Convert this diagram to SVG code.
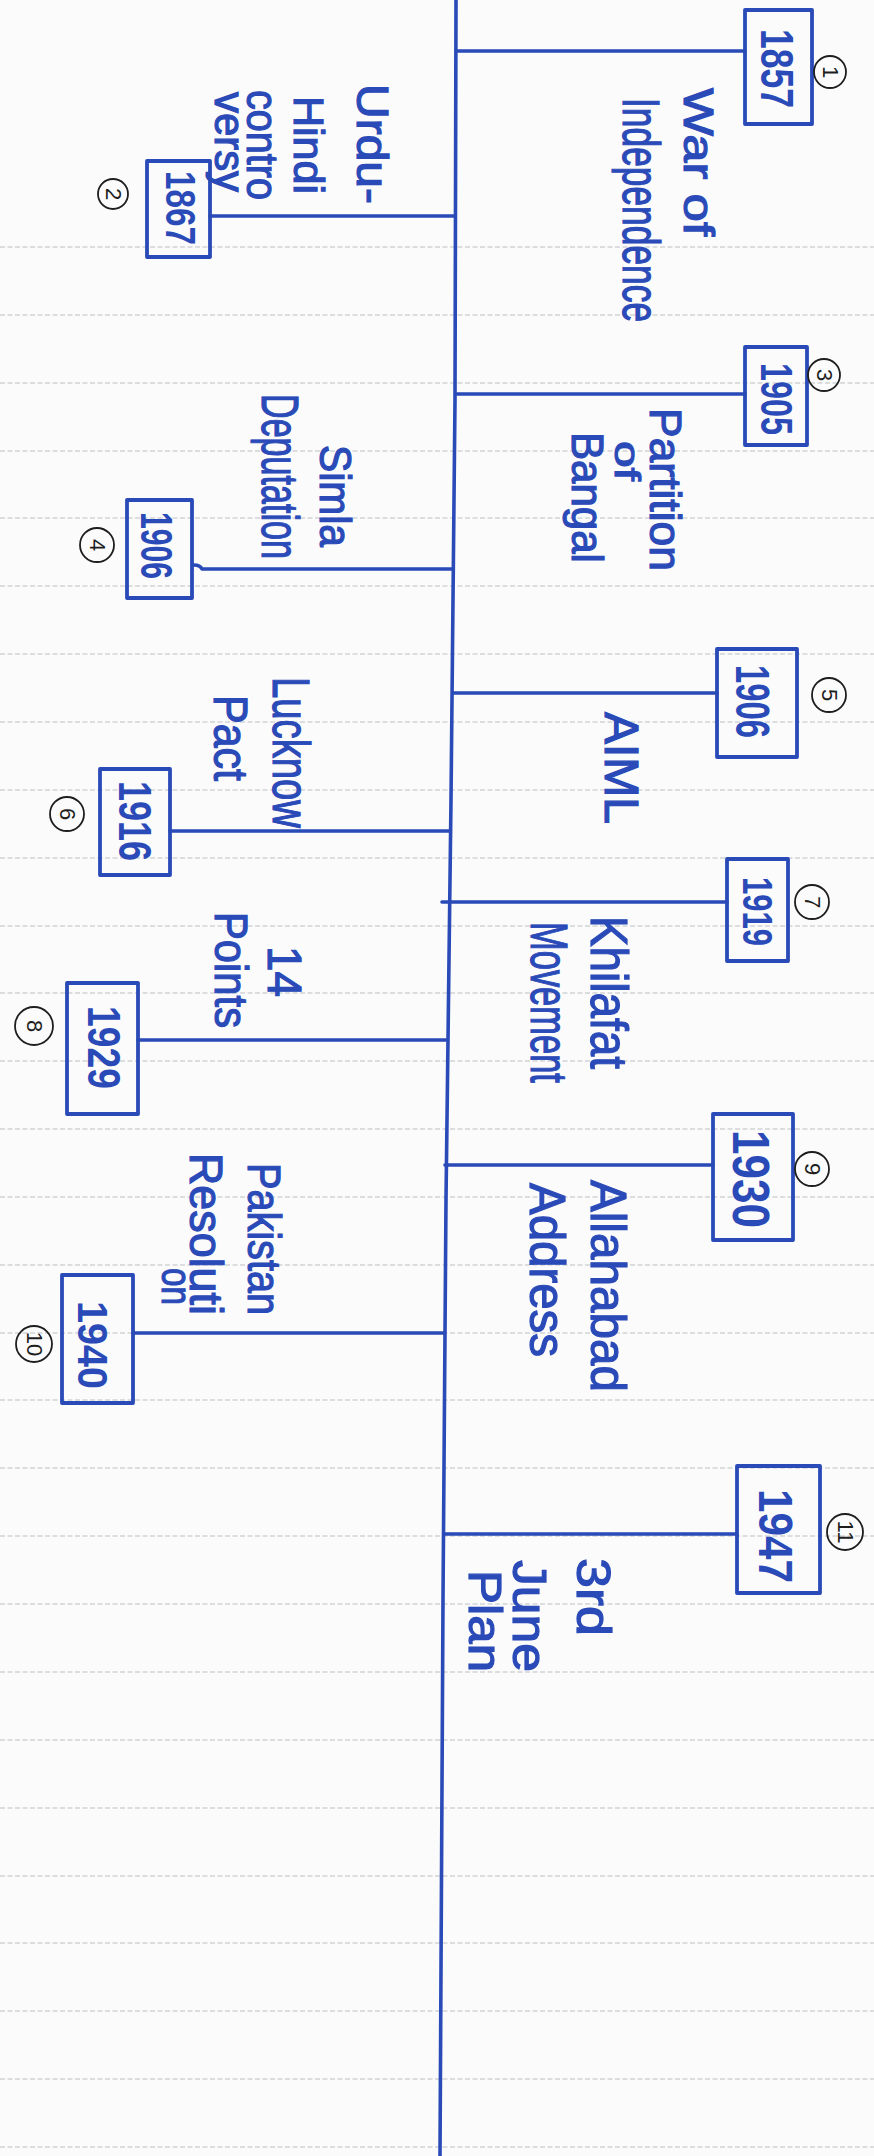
<svg xmlns="http://www.w3.org/2000/svg" width="874" height="2156" viewBox="0 0 874 2156">
<style>
.rule{stroke:#8a9098;stroke-width:1.1;stroke-dasharray:5 2.5;opacity:.55;fill:none}
.ink{stroke:#2a4ab8;fill:none;stroke-width:3.6;stroke-linecap:round;stroke-linejoin:round}
.box{fill:none;stroke:#2a4ab8;stroke-width:3.8;stroke-linejoin:round}
.lbl{font-family:"Liberation Sans",Arial,sans-serif;fill:#2a4ab8;stroke:#2a4ab8;stroke-width:1.2}
.yr{font-family:"Liberation Sans",Arial,sans-serif;fill:#2a4ab8;font-weight:bold}
.num circle{fill:none;stroke:#1e1e1e;stroke-width:1.8}
.num text{font-family:"Liberation Sans",Arial,sans-serif;fill:#1e1e1e;font-size:22px;text-anchor:middle;dominant-baseline:central}
</style>
<rect width="874" height="2156" fill="#fbfbfb"/>
<g id="ruled-lines">
<path class="rule" d="M0,247H874M0,315H874M0,383H874M0,451H874M0,518H874M0,586H874M0,654H874M0,722H874M0,790H874M0,858H874M0,926H874M0,993H874M0,1061H874M0,1129H874M0,1197H874M0,1265H874M0,1333H874M0,1400H874M0,1468H874M0,1536H874M0,1604H874M0,1672H874M0,1740H874M0,1808H874M0,1876H874M0,1943H874M0,2011H874M0,2079H874M0,2147H874"/>
</g>
<g id="timeline">
<polyline class="ink" points="456,0 455,400 451,800 446,1200 443,1600 440,2156"/>
</g>
<g id="connectors">
<path class="ink" d="M457,51H745"/>
<path class="ink" d="M210,216H454"/>
<path class="ink" d="M457,394H745"/>
<path class="ink" d="M194,565q6,0 8,4H453"/>
<path class="ink" d="M453,693H717"/>
<path class="ink" d="M170,831H449"/>
<path class="ink" d="M442,902H727"/>
<path class="ink" d="M138,1040H446"/>
<path class="ink" d="M445,1165H713"/>
<path class="ink" d="M133,1333H444"/>
<path class="ink" d="M444,1534H737"/>
</g>
<g id="event-1857">
<rect class="box" x="745" y="10" width="67" height="114"/>
<text class="yr" transform="translate(761,29) rotate(90) scale(0.772,1)" font-size="46">1857</text>
<g class="num" transform="translate(830,72) rotate(90)"><circle r="16"/><text>1</text></g>
<text class="lbl" transform="translate(684,88) rotate(90) scale(1.213,1)" font-size="42">War of</text>
<text class="lbl" transform="translate(623,98) rotate(90) scale(0.68,1)" font-size="52">Independence</text>
</g>
<g id="event-1867">
<rect class="box" x="147" y="161" width="63" height="96"/>
<text class="yr" transform="translate(166,171) rotate(90) scale(0.792,1)" font-size="42">1867</text>
<g class="num" transform="translate(113,194) rotate(90)"><circle r="15"/><text>2</text></g>
<text class="lbl" transform="translate(357,84) rotate(90) scale(1.091,1)" font-size="44">Urdu-</text>
<text class="lbl" transform="translate(294,96) rotate(90) scale(1.024,1)" font-size="42">Hindi</text>
<text class="lbl" transform="translate(247,90) rotate(90) scale(0.9,1)" font-size="44">contro</text>
<text class="lbl" transform="translate(215,92) rotate(90) scale(0.997,1)" font-size="42">versy</text>
</g>
<g id="event-1905">
<rect class="box" x="745" y="347" width="62" height="98"/>
<text class="yr" transform="translate(761,363) rotate(90) scale(0.736,1)" font-size="44">1905</text>
<g class="num" transform="translate(824,375) rotate(90)"><circle r="16"/><text>3</text></g>
<text class="lbl" transform="translate(650,408) rotate(90) scale(1.01,1)" font-size="44">Partition</text>
<text class="lbl" transform="translate(615,441) rotate(90) scale(1.33,1)" font-size="36">of</text>
<text class="lbl" transform="translate(572,432) rotate(90) scale(0.956,1)" font-size="44">Bangal</text>
</g>
<g id="event-1906-simla">
<rect class="box" x="127" y="500" width="65" height="98"/>
<text class="yr" transform="translate(141,512) rotate(90) scale(0.685,1)" font-size="44">1906</text>
<g class="num" transform="translate(97,545) rotate(90)"><circle r="17"/><text>4</text></g>
<text class="lbl" transform="translate(320,445) rotate(90) scale(0.927,1)" font-size="44">Simla</text>
<text class="lbl" transform="translate(262,394) rotate(90) scale(0.656,1)" font-size="52">Deputation</text>
</g>
<g id="event-1906-aiml">
<rect class="box" x="717" y="649" width="80" height="108"/>
<text class="yr" transform="translate(736,665) rotate(90) scale(0.684,1)" font-size="48">1906</text>
<g class="num" transform="translate(829,695) rotate(90)"><circle r="17"/><text>5</text></g>
<text class="lbl" transform="translate(605,712) rotate(90)" font-size="48">AIML</text>
</g>
<g id="event-1916">
<rect class="box" x="100" y="769" width="70" height="106"/>
<text class="yr" transform="translate(119,781) rotate(90) scale(0.782,1)" font-size="46">1916</text>
<g class="num" transform="translate(67,814) rotate(90)"><circle r="17"/><text>6</text></g>
<text class="lbl" transform="translate(273,677) rotate(90) scale(0.736,1)" font-size="52">Lucknow</text>
<text class="lbl" transform="translate(214,695) rotate(90) scale(0.896,1)" font-size="48">Pact</text>
</g>
<g id="event-1919">
<rect class="box" x="727" y="859" width="61" height="102"/>
<text class="yr" transform="translate(743,877) rotate(90) scale(0.739,1)" font-size="42">1919</text>
<g class="num" transform="translate(812,902) rotate(90)"><circle r="17"/><text>7</text></g>
<text class="lbl" transform="translate(591,916) rotate(90) scale(0.882,1)" font-size="52">Khilafat</text>
<text class="lbl" transform="translate(531,922) rotate(90) scale(0.663,1)" font-size="52">Movement</text>
</g>
<g id="event-1929">
<rect class="box" x="67" y="983" width="71" height="131"/>
<text class="yr" transform="translate(88,1006) rotate(90) scale(0.811,1)" font-size="46">1929</text>
<g class="num" transform="translate(34,1026) rotate(90)"><circle r="19"/><text>8</text></g>
<text class="lbl" transform="translate(268,946) rotate(90) scale(0.955,1)" font-size="48">14</text>
<text class="lbl" transform="translate(215,912) rotate(90) scale(0.908,1)" font-size="46">Points</text>
</g>
<g id="event-1930">
<rect class="box" x="713" y="1114" width="80" height="126"/>
<text class="yr" transform="translate(733,1130) rotate(90) scale(0.847,1)" font-size="52">1930</text>
<g class="num" transform="translate(812,1169) rotate(90)"><circle r="17"/><text>9</text></g>
<text class="lbl" transform="translate(591,1180) rotate(90) scale(0.953,1)" font-size="50">Allahabad</text>
<text class="lbl" transform="translate(530,1183) rotate(90) scale(0.949,1)" font-size="50">Address</text>
</g>
<g id="event-1940">
<rect class="box" x="62" y="1275" width="71" height="128"/>
<text class="yr" transform="translate(78,1301) rotate(90) scale(0.942,1)" font-size="42">1940</text>
<g class="num" transform="translate(34,1344) rotate(90)"><circle r="18"/><text>10</text></g>
<text class="lbl" transform="translate(248,1163) rotate(90) scale(0.862,1)" font-size="46">Pakistan</text>
<text class="lbl" transform="translate(190,1153) rotate(90) scale(0.975,1)" font-size="46">Resoluti</text>
<text class="lbl" transform="translate(162,1268) rotate(90) scale(0.792,1)" font-size="42">on</text>
</g>
<g id="event-1947">
<rect class="box" x="737" y="1466" width="83" height="127"/>
<text class="yr" transform="translate(759,1489) rotate(90) scale(0.88,1)" font-size="48">1947</text>
<g class="num" transform="translate(845,1532) rotate(90)"><circle r="18"/><text>11</text></g>
<text class="lbl" transform="translate(577,1558) rotate(90) scale(1.124,1)" font-size="48">3rd</text>
<text class="lbl" transform="translate(513,1560) rotate(90) scale(1.077,1)" font-size="48">June</text>
<text class="lbl" transform="translate(469,1570) rotate(90) scale(1.109,1)" font-size="46">Plan</text>
</g>
</svg>
